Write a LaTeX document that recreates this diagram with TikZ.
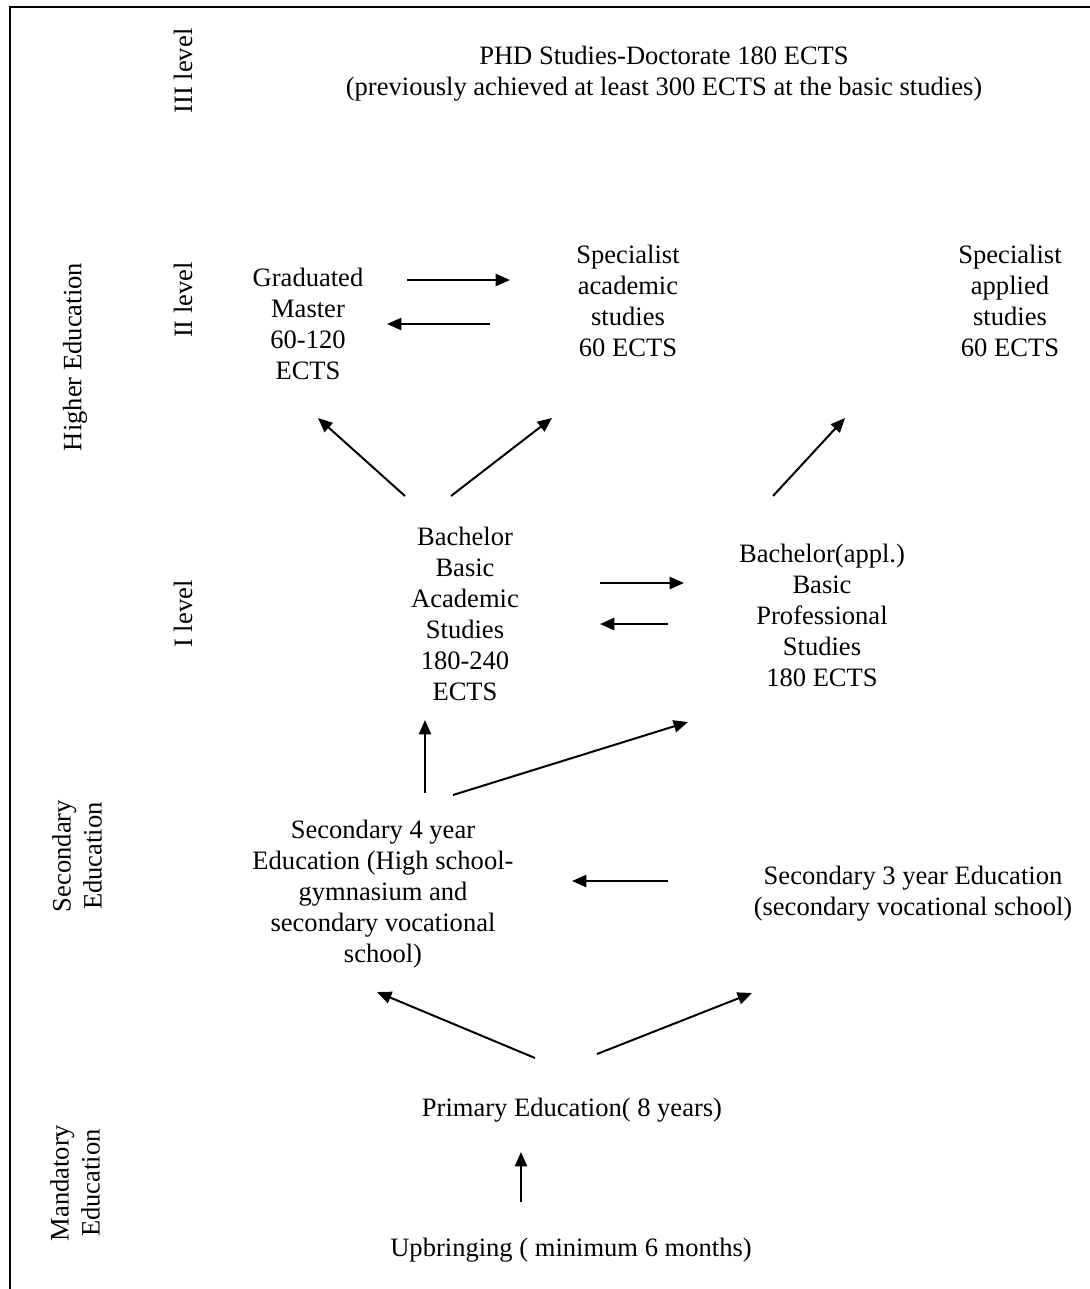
\documentclass[tikz,border=0pt]{standalone}
\usepackage{fontspec}
\setmainfont{Liberation Serif}
\usetikzlibrary{arrows.meta}

\begin{document}
\begin{tikzpicture}[x=0.452pt, y=-0.452pt, >={Triangle[length=6.5pt, width=5.5pt]},
    txt/.style={align=center, inner sep=0pt, font=\fontsize{12}{14}\selectfont},
    side/.style={txt, rotate=90},
    link/.style={->, line width=0.9pt}]
    \useasboundingbox (0,0) rectangle (1090,1289);
    % frame
    \draw[line width=1.3pt] (10,1289) -- (10,7) -- (1090,7);
    % level labels
    \node[side] (lvlthree) at (183,71) {III level};
    \node[side] (lvltwo) at (183,300) {II level};
    \node[side] (lvlone) at (183,614) {I level};
    \node[side] (higher) at (75,357) {Higher Education};
    \node[side] (secondary) at (77,856) {Secondary\\Education};
    \node[side] (mandatory) at (75,1183) {Mandatory\\Education};
    % higher education
    \node[txt] (phd) at (664,74) {PHD Studies-Doctorate 180 ECTS\\(previously achieved at least 300 ECTS at the basic studies)};
    \node[txt] (master) at (308,324) {Graduated\\Master\\60-120\\ECTS};
    \node[txt] (specacad) at (628,301) {Specialist\\academic\\studies\\60 ECTS};
    \node[txt] (specappl) at (1010,301) {Specialist\\applied\\studies\\60 ECTS};
    \node[txt] (bachacad) at (465,614) {Bachelor\\Basic\\Academic\\Studies\\180-240\\ECTS};
    \node[txt] (bachappl) at (822,615) {Bachelor(appl.)\\Basic\\Professional\\Studies\\180 ECTS};
    % secondary and mandatory education
    \node[txt] (secfour) at (383,894) {Secondary 4 year\\Education (High school-\\gymnasium and\\secondary vocational\\school)};
    \node[txt] (secthree) at (913,894) {Secondary 3 year Education\\(secondary vocational school)};
    \node[txt] (primary) at (572,1110) {Primary Education( 8 years)};
    \node[txt] (upbringing) at (571,1250) {Upbringing ( minimum 6 months)};
    % arrow ends
    \coordinate (ma-out) at (407,280); \coordinate (sa-in) at (510,280);
    \coordinate (sa-out) at (490,324); \coordinate (ma-in) at (387,324);
    \coordinate (ba-ma) at (405,496); \coordinate (ma-low) at (318,418);
    \coordinate (ba-sa) at (451,496); \coordinate (sa-low) at (552,418);
    \coordinate (bp-sp) at (773,496); \coordinate (sp-low) at (845,418);
    \coordinate (ba-out) at (600,583); \coordinate (bp-in) at (684,583);
    \coordinate (bp-out) at (668,624); \coordinate (ba-in) at (600,624);
    \coordinate (s4-ba) at (425,793); \coordinate (ba-low) at (425,720);
    \coordinate (s4-bp) at (453,795); \coordinate (bp-low) at (688,722);
    \coordinate (s3-out) at (668,881); \coordinate (s4-in) at (572,881);
    \coordinate (pr-s4) at (535,1058); \coordinate (s4-low) at (377,992);
    \coordinate (pr-s3) at (597,1054); \coordinate (s3-low) at (752,993);
    \coordinate (up-pr) at (521,1202); \coordinate (pr-low) at (521,1152);
    % arrows
    \draw[link] (ma-out) -- (sa-in);
    \draw[link] (sa-out) -- (ma-in);
    \draw[link] (ba-ma) -- (ma-low);
    \draw[link] (ba-sa) -- (sa-low);
    \draw[link] (bp-sp) -- (sp-low);
    \draw[link] (ba-out) -- (bp-in);
    \draw[link] (bp-out) -- (ba-in);
    \draw[link] (s4-ba) -- (ba-low);
    \draw[link] (s4-bp) -- (bp-low);
    \draw[link] (s3-out) -- (s4-in);
    \draw[link] (pr-s4) -- (s4-low);
    \draw[link] (pr-s3) -- (s3-low);
    \draw[link] (up-pr) -- (pr-low);
\end{tikzpicture}
\end{document}
